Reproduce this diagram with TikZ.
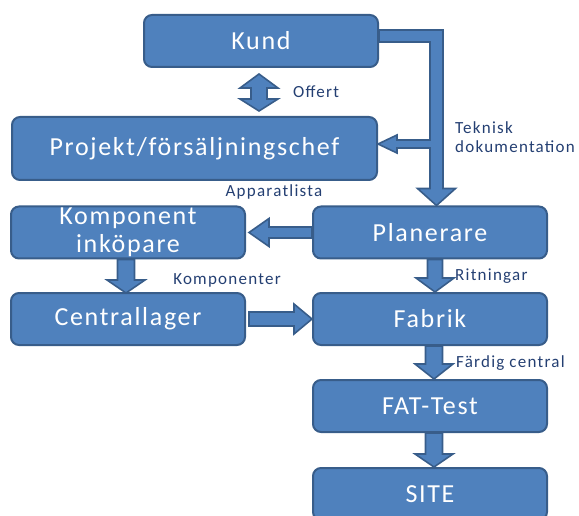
\documentclass[tikz,border=0pt]{standalone}
\usepackage{fontspec}
\setmainfont{Carlito}
\newfontfamily\boxfam[LetterSpace=6.5]{Carlito}
\newfontfamily\labfam[LetterSpace=7.3]{Carlito}
\usetikzlibrary{calc}
\definecolor{bfill}{HTML}{4F81BD}
\definecolor{bline}{HTML}{385D8A}
\definecolor{labc}{HTML}{243F72}
% straight block arrow: from, to, shaft half-width, head half-width, head length (pt)
\newcommand{\blockarrow}[5]{%
  \draw[barr] let \p1=(#1), \p2=(#2),
    \n1={veclen(\x2-\x1,\y2-\y1)}, \n2={(\x2-\x1)/\n1}, \n3={(\y2-\y1)/\n1} in
    ({\x1-(#3)*(\n3)},{\y1+(#3)*(\n2)}) --
    ({\x2-(#5)*(\n2)-(#3)*(\n3)},{\y2-(#5)*(\n3)+(#3)*(\n2)}) --
    ({\x2-(#5)*(\n2)-(#4)*(\n3)},{\y2-(#5)*(\n3)+(#4)*(\n2)}) --
    (\x2,\y2) --
    ({\x2-(#5)*(\n2)+(#4)*(\n3)},{\y2-(#5)*(\n3)-(#4)*(\n2)}) --
    ({\x2-(#5)*(\n2)+(#3)*(\n3)},{\y2-(#5)*(\n3)-(#3)*(\n2)}) --
    ({\x1+(#3)*(\n3)},{\y1-(#3)*(\n2)}) -- cycle;}
\begin{document}
\begin{tikzpicture}[x=1pt,y=-1pt,
  box/.style={draw=bline, fill=bfill, line width=2pt, rounded corners=8pt,
    text=white, font=\boxfam\fontsize{26}{28}\selectfont, align=center,
    inner sep=0pt, minimum width=234pt, minimum height=52pt},
  barr/.style={draw=bline, fill=bfill, line width=1.6pt, line join=miter},
  lab/.style={text=labc, font=\labfam\fontsize{17}{19}\selectfont, inner sep=0pt}]
\useasboundingbox (0,0) rectangle (579,516);
\clip (0,0) rectangle (579,516);
% boxes
\node[box] (kund) at (261,41) {Kund};
\node[box, minimum width=365pt, minimum height=63pt] (proj) at (194.5,148.5) {Projekt/försäljningschef};
\node[box] (komp) at (128,232.5) {Komponent\\inköpare};
\node[box] (plan) at (430,232.5) {Planerare};
\node[box] (cent) at (128,319) {Centrallager};
\node[box] (fab) at (430,319) {Fabrik};
\node[box] (fat) at (430,406) {FAT-Test};
\node[box] (site) at (430,494) {SITE};
% labels
\node[lab, anchor=west] (loffert) at (293,92) {Offert};
\node[lab, anchor=west, align=left] (ltek) at (455,137.5) {Teknisk\\dokumentation};
\node[lab] (lapp) at (274,192) {Apparatlista};
\node[lab] (lkomp) at (227,280) {Komponenter};
\node[lab, anchor=west] (lrit) at (455,276) {Ritningar};
\node[lab, anchor=west] (lfar) at (456,363) {Färdig central};
% double arrow Kund <-> Projekt
\draw[barr] let \p1=([shift={(-2pt,-6pt)}]kund.south), \p2=([yshift=5pt]proj.north) in
  (\x1,\y1) -- ({\x1+19pt},{\y1-14pt}) -- ({\x1+8pt},{\y1-14pt}) --
  ({\x1+8pt},{\y2+12pt}) -- ({\x1+19pt},{\y2+12pt}) -- (\x1,\y2) --
  ({\x1-19pt},{\y2+12pt}) -- ({\x1-8pt},{\y2+12pt}) --
  ({\x1-8pt},{\y1-14pt}) -- ({\x1-19pt},{\y1-14pt}) -- cycle;
% Teknisk dokumentation: Kund -> Planerare with branch to Projekt
\coordinate (tk) at (436.5,36);
\draw[barr] let \p1=(kund.east), \p2=([yshift=4.5pt]proj.east), \p3=(plan.north), \p4=(tk) in
  (\x1,{\y4+6pt}) -- ({\x4+6.5pt},{\y4+6pt}) -- ({\x4+6.5pt},{\y3+17pt}) --
  ({\x4+19pt},{\y3+17pt}) -- (\x4,\y3) -- ({\x4-19pt},{\y3+17pt}) --
  ({\x4-6.5pt},{\y3+17pt}) -- ({\x4-6.5pt},{\y2-4pt}) --
  ({\x2+19pt},{\y2-4pt}) -- ({\x2+19pt},{\y2-9pt}) -- (\x2,\y2) --
  ({\x2+19pt},{\y2+9pt}) -- ({\x2+19pt},{\y2+4pt}) --
  ({\x4-6.5pt},{\y2+4pt}) -- ({\x4-6.5pt},{\y4-6pt}) -- (\x1,{\y4-6pt}) -- cycle;
% other arrows
\blockarrow{plan.west}{[xshift=3pt]komp.east}{5.5}{14}{20}
\blockarrow{[xshift=-2pt]komp.south}{[shift={(-2pt,-1pt)}]cent.north}{8.5}{19}{13}
\blockarrow{[xshift=3pt]cent.east}{fab.west}{7}{15}{18}
\blockarrow{[xshift=5pt]plan.south}{[xshift=5pt]fab.north}{7.5}{19}{14}
\blockarrow{[xshift=4pt]fab.south}{[xshift=4pt]fat.north}{8.5}{19}{15}
\blockarrow{[xshift=4pt]fat.south}{[xshift=4pt]site.north}{8.5}{19}{13}
\end{tikzpicture}
\end{document}
